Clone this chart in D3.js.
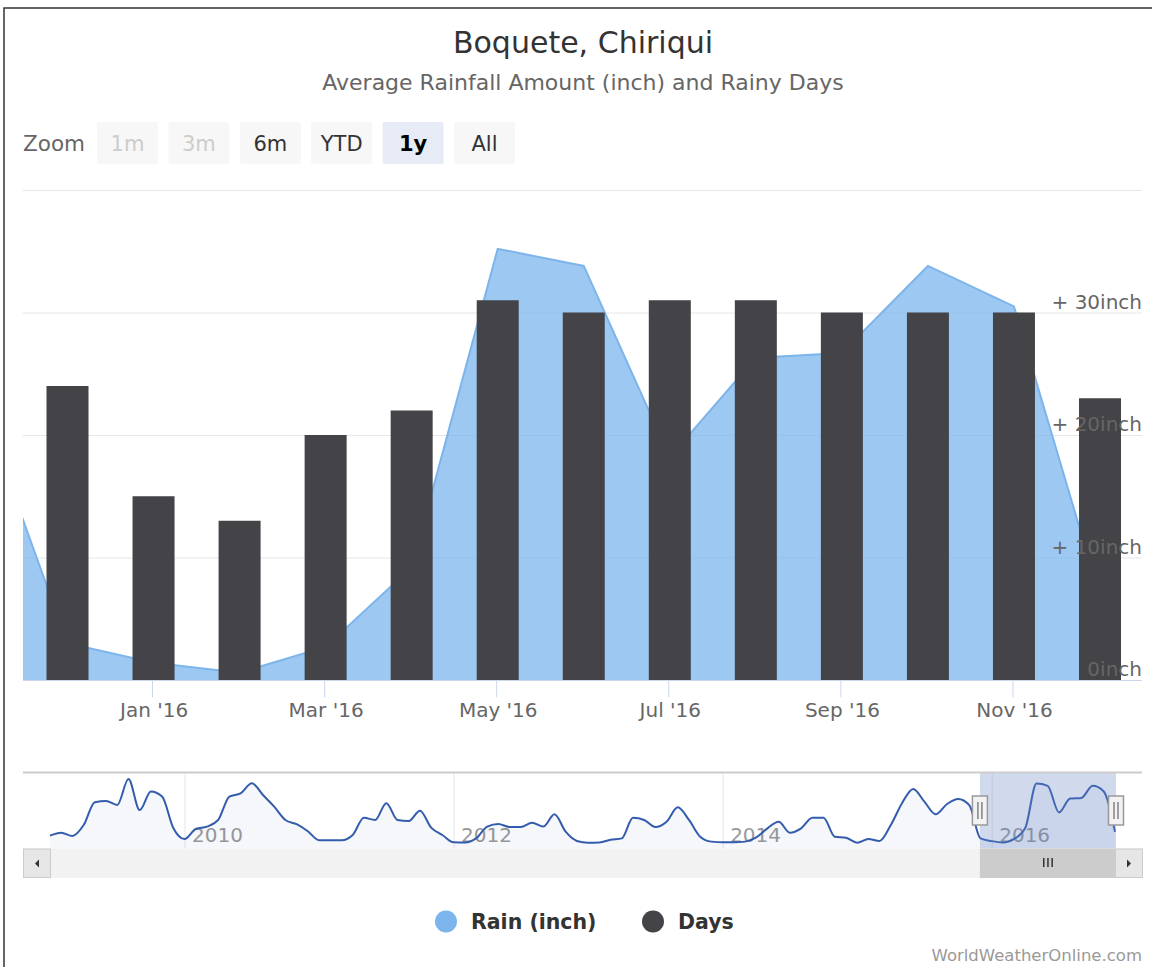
<!DOCTYPE html>
<html>
<head>
<meta charset="utf-8">
<script src="https://cdn.jsdelivr.net/npm/d3@7"></script>
<style>
  body { margin: 0; background: #fff; }
  svg { display: block; font-family: "DejaVu Sans", sans-serif; }
</style>
</head>
<body>
<div id="chart"></div>
<script>
// monthly rain (inch), Jan 2009 .. Dec 2016
const rainByYear = {
  2009: [4.6, 6.3, 4.4, 10.8, 24.2, 24.9, 22.6, 37.8, 19.6, 30.4, 27.5, 9.1],
  2010: [2.6, 8.5, 9.9, 13.8, 27.5, 29.4, 35.3, 28.4, 21.6, 13.8, 11.3, 7.2],
  2011: [1.9, 1.9, 1.9, 5.0, 15.1, 13.8, 23.6, 13.8, 13.2, 19.2, 9.3, 5.0],
  2012: [0.7, 0.6, 3.0, 9.9, 11.4, 9.7, 9.7, 12.2, 9.9, 17.1, 6.9, 1.5],
  2013: [0.5, 0.6, 2.2, 3.0, 15.1, 13.8, 9.7, 12.8, 21.2, 13.8, 4.0, 1.1],
  2014: [0.7, 0.7, 1.1, 3.6, 8.9, 12.8, 6.3, 8.9, 15.1, 15.1, 4.0, 3.4],
  2015: [0.5, 2.6, 1.5, 10.8, 23.6, 32.0, 24.5, 17.1, 23.0, 26.1, 22.5, 3.0],
  2016: [1.4, 0.6, 2.7, 9.2, 35.2, 33.8, 18.2, 26.3, 26.7, 33.8, 30.5, 6.8]
};
const rain = Object.keys(rainByYear).flatMap(y => rainByYear[y]);
const months = d3.timeMonth.range(new Date(2009, 0, 1), new Date(2017, 0, 1));

// rainy days, Dec 2015 .. Dec 2016
const days = [24, 15, 13, 20, 22, 31, 30, 31, 31, 30, 30, 30, 23];
const daysStart = 83; // index of Dec 2015 in months

const yTicks = [0, 10, 20, 30, 40];
const yTickLabels = ["0inch", "+ 10inch", "+ 20inch", "+ 30inch", ""];
const xTicks = [84, 86, 88, 90, 92, 94];
const navYears = [12, 36, 60, 84];
const zoomButtons = ["1m", "3m", "6m", "YTD", "1y", "All"];
const zoomState = ["off", "off", "on", "on", "sel", "on"];

const W = 1152, H = 967;
const left = 23, right = 1142;

const svg = d3.select("#chart").append("svg")
    .attr("width", W)
    .attr("height", H);

// frame
svg.append("path")
    .attr("d", "M4,967 L4,8 L1152,8")
    .attr("fill", "none")
    .attr("stroke", "#333")
    .attr("stroke-width", 1.5);

svg.append("text").attr("x", 583).attr("y", 53)
    .attr("text-anchor", "middle").attr("font-size", 30).attr("fill", "#333")
    .text("Boquete, Chiriqui");
svg.append("text").attr("x", 583).attr("y", 90)
    .attr("text-anchor", "middle").attr("font-size", 22).attr("fill", "#666")
    .text("Average Rainfall Amount (inch) and Rainy Days");

// range selector
svg.append("text").attr("x", 23).attr("y", 151)
    .attr("font-size", 21.5).attr("fill", "#666").text("Zoom");
const btn = svg.selectAll("g.btn").data(zoomButtons).enter().append("g")
    .attr("class", "btn")
    .attr("transform", (d, i) => "translate(" + (97 + i * 71.4) + ",122)");
btn.append("rect")
    .attr("width", 61).attr("height", 42).attr("rx", 2)
    .attr("fill", (d, i) => zoomState[i] == "sel" ? "#e6ebf5" : "#f7f7f7");
btn.append("text")
    .attr("x", 30.5).attr("y", 29)
    .attr("text-anchor", "middle").attr("font-size", 21)
    .attr("font-weight", (d, i) => zoomState[i] == "sel" ? "bold" : "normal")
    .attr("fill", (d, i) => zoomState[i] == "off" ? "#ccc" : (zoomState[i] == "sel" ? "#000" : "#333"))
    .text(d => d);

// main chart
const x = d3.scaleLinear().domain([83, 95]).range([67.5, 1100]);
const y = d3.scaleLinear().domain([0, 40]).range([680, 190]);

svg.append("clipPath").attr("id", "plotclip")
    .append("rect").attr("x", left).attr("y", 150).attr("width", right - left).attr("height", 530);

const yAxis = svg.append("g")
    .attr("transform", "translate(" + right + ",0)")
    .call(d3.axisLeft(y).tickValues(yTicks).tickSize(right - left).tickFormat((d, i) => yTickLabels[i]));
yAxis.select(".domain").remove();
yAxis.selectAll(".tick line").attr("stroke", "#e6e6e6");
yAxis.selectAll(".tick text").remove();

const plot = svg.append("g").attr("clip-path", "url(#plotclip)");
const area = d3.area()
    .x((d, i) => x(i))
    .y0(y(0))
    .y1(d => y(d));
plot.append("path")
    .datum(rain)
    .attr("d", area)
    .attr("fill", "rgba(124,181,236,0.75)");
plot.append("path")
    .datum(rain)
    .attr("d", d3.line().x((d, i) => x(i)).y(d => y(d)))
    .attr("fill", "none")
    .attr("stroke", "#7cb5ec")
    .attr("stroke-width", 2);

const barW = 42;
plot.selectAll("rect.day").data(days).enter().append("rect")
    .attr("class", "day")
    .attr("x", (d, i) => x(daysStart + i) - barW / 2)
    .attr("y", d => y(d))
    .attr("width", barW)
    .attr("height", d => y(0) - y(d))
    .attr("fill", "#434348");

// y labels on top
svg.append("g").selectAll("text").data(yTicks.slice(0, 4)).enter().append("text")
    .attr("x", right).attr("y", d => y(d) - 4)
    .attr("text-anchor", "end").attr("font-size", 20).attr("fill", "#666")
    .text((d, i) => yTickLabels[i]);

const xAxis = svg.append("g")
    .attr("transform", "translate(0," + 680.5 + ")")
    .call(d3.axisBottom(x).tickValues(xTicks).tickSize(17)
        .tickFormat(i => d3.timeFormat("%b '%y")(months[i])));
xAxis.select(".domain").remove();
xAxis.append("line").attr("x1", left).attr("x2", right).attr("stroke", "#ccd6eb");
xAxis.selectAll(".tick line").attr("stroke", "#ccd6eb").attr("transform", "translate(-1.5,0)");
xAxis.selectAll(".tick text")
    .attr("font-family", "DejaVu Sans").attr("font-size", 20).attr("fill", "#666")
    .attr("y", 36).attr("dy", 0);

// navigator
const navTop = 772.5, navBottom = 848.5;
const nx = d3.scaleLinear().domain([0, 95]).range([50, 1115]);
const ny = d3.scaleLinear().domain([0, 41.6]).range([843.5, navTop]);

const navAxis = svg.append("g")
    .attr("transform", "translate(0," + navTop + ")")
    .call(d3.axisBottom(nx).tickValues(navYears).tickSize(navBottom - navTop)
        .tickFormat(i => d3.timeFormat("%Y")(months[i])));
navAxis.select(".domain").remove();
navAxis.selectAll(".tick line").attr("stroke", "#e6e6e6");
navAxis.selectAll(".tick text")
    .attr("font-family", "DejaVu Sans").attr("font-size", 20).attr("fill", "#999")
    .attr("text-anchor", "start").attr("x", 7).attr("y", 69).attr("dy", 0);

svg.append("path")
    .datum(rain)
    .attr("d", d3.area().curve(d3.curveMonotoneX).x((d, i) => nx(i)).y0(navBottom).y1(d => ny(d)))
    .attr("fill", "rgba(51,92,173,0.05)");
svg.append("path")
    .datum(rain)
    .attr("d", d3.line().curve(d3.curveMonotoneX).x((d, i) => nx(i)).y(d => ny(d)))
    .attr("fill", "none")
    .attr("stroke", "#335cad")
    .attr("stroke-width", 2);

const selFrom = nx(daysStart - 0.05), selTo = nx(95) + 1;
svg.append("rect")
    .attr("x", selFrom).attr("y", navTop).attr("width", selTo - selFrom).attr("height", navBottom - navTop)
    .attr("fill", "rgba(102,133,194,0.3)");
svg.append("line")
    .attr("x1", left).attr("x2", right).attr("y1", navTop).attr("y2", navTop)
    .attr("stroke", "#ccc").attr("stroke-width", 2);

// scrollbar
svg.append("rect").attr("x", left).attr("y", navBottom).attr("width", right - left).attr("height", 29.5)
    .attr("fill", "#f2f2f2");
svg.append("rect").attr("x", selFrom).attr("y", navBottom).attr("width", selTo - selFrom).attr("height", 29.5)
    .attr("fill", "#ccc");
[0, 4.2, 8.4].forEach(dx => {
    const cx = (selFrom + selTo) / 2 - 4.2 + dx;
    svg.append("line").attr("x1", cx).attr("x2", cx).attr("y1", 858).attr("y2", 867)
        .attr("stroke", "#333").attr("stroke-width", 1.5);
});
[[left, -1], [right - 27, 1]].forEach(([bx, dir]) => {
    svg.append("rect").attr("x", bx + 0.5).attr("y", navBottom + 0.5).attr("width", 27).attr("height", 28.5)
        .attr("fill", "#e6e6e6").attr("stroke", "#ccc");
    const cx = bx + 14, cy = navBottom + 15;
    svg.append("path")
        .attr("d", "M" + (cx - 2 * dir) + "," + (cy - 4) + " L" + (cx + 2 * dir) + "," + cy + " L" + (cx - 2 * dir) + "," + (cy + 4) + "Z")
        .attr("fill", "#333");
});

// handles
[selFrom, selTo].forEach(hx => {
    svg.append("rect").attr("x", hx - 7.5).attr("y", 796).attr("width", 15).attr("height", 29)
        .attr("fill", "#f2f2f2").attr("stroke", "#999").attr("stroke-width", 1.5);
    [-2, 2].forEach(dx => {
        svg.append("line").attr("x1", hx + dx).attr("x2", hx + dx).attr("y1", 802).attr("y2", 819)
            .attr("stroke", "#666").attr("stroke-width", 1.2);
    });
});

// legend
const legendItems = [["Rain (inch)", "#7cb5ec", 446], ["Days", "#434348", 653]];
legendItems.forEach(([name, col, cx]) => {
    svg.append("circle").attr("cx", cx).attr("cy", 921.5).attr("r", 11).attr("fill", col);
    svg.append("text").attr("x", cx + 25).attr("y", 929)
        .attr("font-size", 20.5).attr("font-weight", "bold").attr("fill", "#333")
        .text(name);
});

svg.append("text").attr("x", 1142).attr("y", 961)
    .attr("text-anchor", "end").attr("font-size", 16.5).attr("fill", "#999")
    .text("WorldWeatherOnline.com");
</script>
</body>
</html>
